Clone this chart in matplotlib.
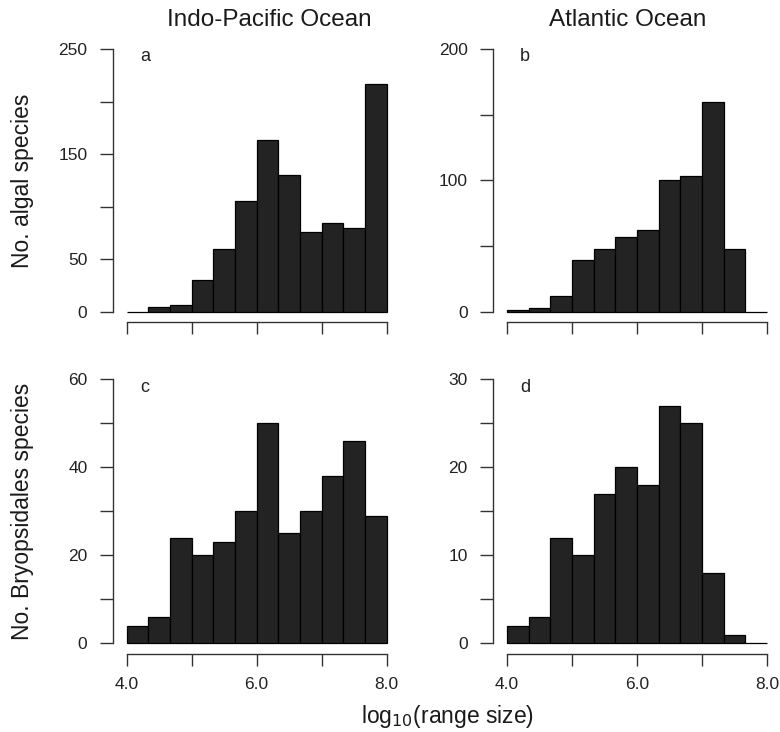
import numpy as np
import matplotlib
matplotlib.use('Agg')
import matplotlib.pyplot as plt
from matplotlib.ticker import FixedLocator, NullFormatter

plt.rcParams['font.family'] = ['Liberation Sans', 'DejaVu Sans']

# bins of log10(range size), width 1/3
bin_edges = np.linspace(4.0, 8.0, 13)

# counts per bin
algae_indopac = [0, 4, 6, 30, 60, 105, 163, 130, 76, 84, 80, 217]
algae_atlantic = [1, 3, 12, 39, 48, 57, 62, 100, 103, 160, 48, 0]
bryo_indopac = [4, 6, 24, 20, 23, 30, 50, 25, 30, 38, 46, 29]
bryo_atlantic = [2, 3, 12, 10, 17, 20, 18, 27, 25, 8, 1, 0]

col_titles = ['Indo-Pacific Ocean', 'Atlantic Ocean']
row_labels = ['No. algal species', 'No. Bryopsidales species']

panels = [
    # counts, letter, ymax, labelled ticks, all ticks
    (algae_indopac, 'a', 250, [0, 50, 150, 250], np.arange(0, 251, 50)),
    (algae_atlantic, 'b', 200, [0, 100, 200], np.arange(0, 201, 50)),
    (bryo_indopac, 'c', 60, [0, 20, 40, 60], np.arange(0, 61, 10)),
    (bryo_atlantic, 'd', 30, [0, 10, 20, 30], np.arange(0, 31, 5)),
]

W, H = 780, 732
fig = plt.figure(figsize=(W / 100, H / 100), dpi=100)

lefts = [113, 493.3]
tops = [38.5, 368.7]
bottoms = [322.2, 653.9]
px_per_x = 65.0
xlo, xhi = 3.79, 8.16
axw = (xhi - xlo) * px_per_x

axc = '#333333'
for k, (counts, letter, ymax, lab_ticks, all_ticks) in enumerate(panels):
    r, c = divmod(k, 2)
    ax = fig.add_axes([lefts[c] / W, (H - bottoms[r]) / H, axw / W,
                       (bottoms[r] - tops[r]) / H])
    ax.bar(bin_edges[:-1], counts, width=np.diff(bin_edges), align='edge',
           color='#232323', edgecolor='black', linewidth=0.9)
    pad = 0.04 * ymax
    ax.set_xlim(xlo, xhi)
    ax.set_ylim(-pad, ymax + pad)

    for s in ['top', 'right']:
        ax.spines[s].set_visible(False)
    ax.spines['left'].set_bounds(0, ymax)
    ax.spines['bottom'].set_bounds(4, 8)
    for s in ['left', 'bottom']:
        ax.spines[s].set_color(axc)
        ax.spines[s].set_linewidth(1.0)

    ax.yaxis.set_major_locator(FixedLocator(lab_ticks))
    ax.yaxis.set_minor_locator(FixedLocator([t for t in all_ticks if t not in lab_ticks]))
    ax.xaxis.set_major_locator(FixedLocator([4, 6, 8]))
    ax.xaxis.set_minor_locator(FixedLocator([5, 7]))
    ax.yaxis.set_minor_formatter(NullFormatter())
    ax.tick_params(axis='y', which='both', length=9.4, width=1.0, color=axc,
                   labelsize=12.5, pad=9, labelcolor='#222222')
    ax.tick_params(axis='x', which='both', length=8.8, width=1.0, color=axc,
                   labelsize=12.5, pad=8, labelcolor='#222222')
    if r == 0:
        ax.set_xticklabels([])
    else:
        ax.set_xticklabels(['4.0', '6.0', '8.0'])

    ax.text(0.095, 0.935, letter, transform=ax.transAxes, fontsize=13,
            ha='left', va='center', color='#222222')

    if r == 0:
        cx = [269, 628][c]
        fig.text(cx / W, 1 - 20 / H, col_titles[c], fontsize=17.5,
                 ha='center', va='center', color='#1a1a1a')
    if c == 0:
        fig.text(23 / W, 1 - ((tops[r] + bottoms[r]) / 2) / H, row_labels[r],
                 rotation=90, fontsize=16.5, ha='center', va='center',
                 color='#1a1a1a')

fig.text(448 / W, 1 - 717 / H, r'log$_{10}$(range size)', fontsize=16.5,
         ha='center', va='center', color='#1a1a1a')

fig.savefig('out.png', dpi=100)
